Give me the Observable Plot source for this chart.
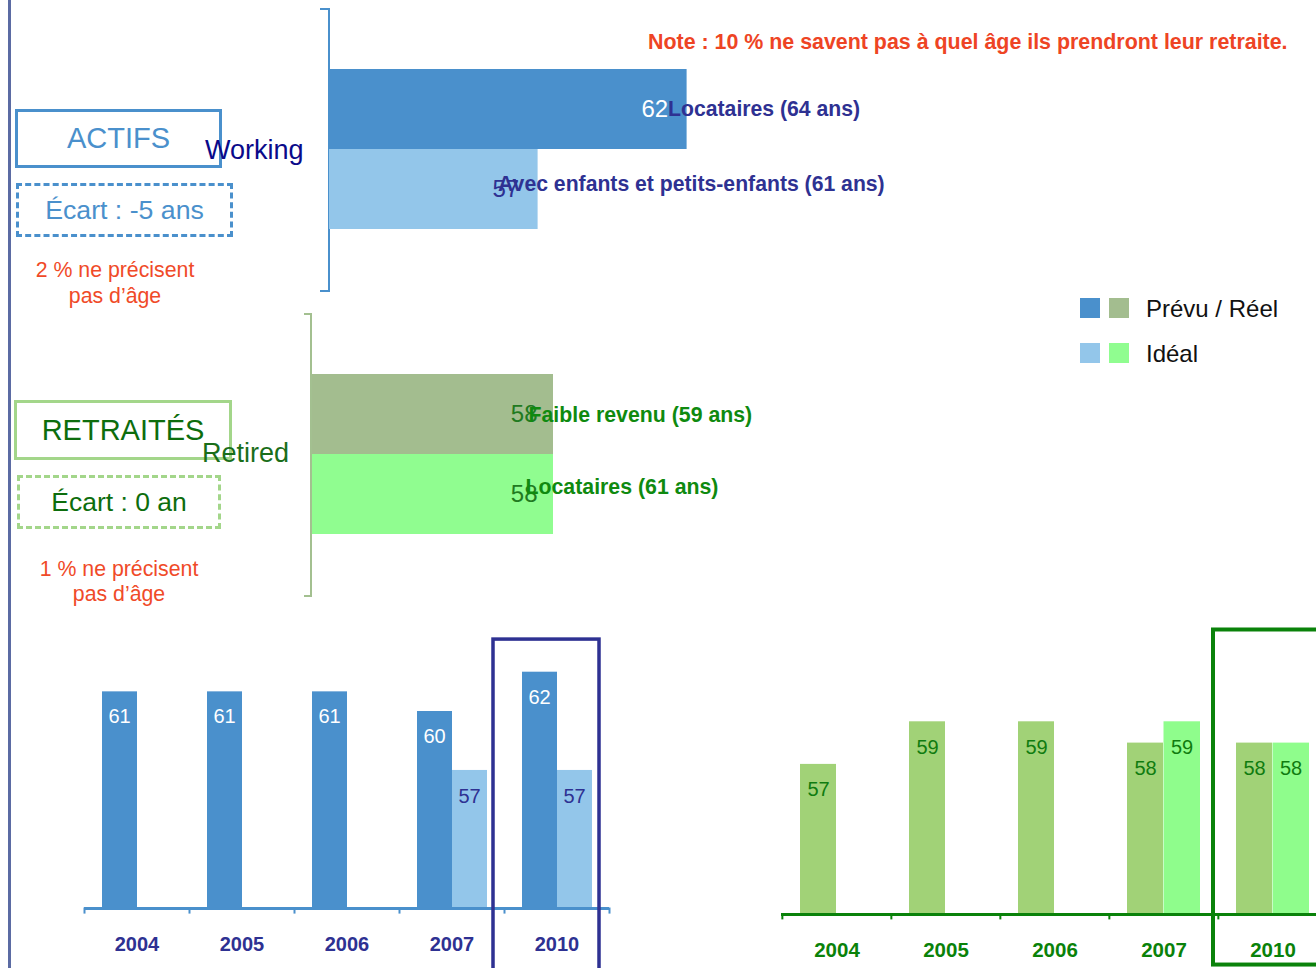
<!DOCTYPE html>
<html><head><meta charset="utf-8">
<script src="https://cdn.jsdelivr.net/npm/d3@7"></script>
<script src="https://cdn.jsdelivr.net/npm/@observablehq/plot@0.6"></script>
<style>
body{margin:0;background:#fff;font-family:"Liberation Sans",Arial,sans-serif;}
#page{position:relative;width:1316px;height:968px;overflow:hidden;background:#fff;}
.t{position:absolute;white-space:nowrap;line-height:1;transform:translateY(-50%);}
.tc{position:absolute;white-space:nowrap;line-height:1;transform:translate(-50%,-50%);text-align:center;}
.box{position:absolute;box-sizing:border-box;display:flex;align-items:center;justify-content:center;white-space:nowrap;line-height:1;}
.sw{position:absolute;width:20px;height:20px;}
</style></head><body><div id="page"></div>
<script>
// ---------- data ----------
const series = ["Prévu / Réel", "Idéal"];
const years = ["2004", "2005", "2006", "2007", "2010"];
const actifsPrevu = [61, 61, 61, 60, 62];
const actifsIdeal = [null, null, null, 57, 57];
const retraitesReel = [57, 59, 59, 58, 58];
const retraitesIdeal = [null, null, null, 59, 58];
const working2010 = [62, 57];
const workingNotes = ["Locataires (64 ans)", "Avec enfants et petits-enfants (61 ans)"];
const retired2010 = [58, 58];
const retiredNotes = ["Faible revenu (59 ans)", "Locataires (61 ans)"];
const groupLabels = ["Working", "Retired"];
const boxTitles = ["ACTIFS", "RETRAITÉS"];
const gapLabels = ["Écart : -5 ans", "Écart : 0 an"];
const missingNotes = [["2 % ne précisent", "pas d’âge"], ["1 % ne précisent", "pas d’âge"]];
const noteText = "Note : 10 % ne savent pas à quel âge ils prendront leur retraite.";
const highlightYear = "2010";
const blueColors = ["#4a90cc", "#93c6ea"];
const greenHColors = ["#a3bd8f", "#90fd90"];
const greenVColors = ["#a1d277", "#8ffd8c"];

// ---------- tables ----------
const workRows = series.map((s, i) => ({series: s, value: working2010[i], note: workingNotes[i]}));
const retRows = series.map((s, i) => ({series: s, value: retired2010[i], note: retiredNotes[i]}));
const toRows = (a, b) => years.flatMap((y, i) => [
  {year: y, series: series[0], value: a[i]},
  {year: y, series: series[1], value: b[i]}
]).filter(d => d.value != null);
const actRows = toRows(actifsPrevu, actifsIdeal);
const retYearRows = toRows(retraitesReel, retraitesIdeal);
const isS = k => d => d.series === series[k];

const font = '"Liberation Sans", Arial, sans-serif';
const page = document.getElementById("page");
function place(node, left, top) {
  node.style.position = "absolute";
  node.style.left = left + "px";
  node.style.top = top + "px";
  page.appendChild(node);
  return node;
}
function el(cls, html, css) {
  const d = document.createElement("div");
  d.className = cls;
  d.innerHTML = html;
  Object.assign(d.style, css);
  page.appendChild(d);
  return d;
}

// ---------- decorations (HTML) ----------
el("", "", {position:"absolute", left:"8px", top:"0px", width:"3px", height:"968px", background:"#5b6ba3"});
// brackets
el("", "", {position:"absolute", left:"320px", top:"8px", width:"8px", height:"280px", border:"2px solid #4a90cc", borderLeft:"none"});
el("", "", {position:"absolute", left:"304px", top:"313px", width:"6px", height:"280px", border:"2px solid #a3c090", borderLeft:"none"});

// boxes
el("box", boxTitles[0], {left:"15px", top:"109px", width:"207px", height:"59px", border:"3px solid #4a90cc", color:"#4a90cc", fontSize:"29px"});
el("box", gapLabels[0], {left:"16px", top:"183px", width:"217px", height:"54px", border:"3px dashed #4a90cc", color:"#4a90cc", fontSize:"26.7px"});
el("tc", missingNotes[0][0], {left:"115px", top:"271px", color:"#f04a28", fontSize:"21.3px"});
el("tc", missingNotes[0][1], {left:"115px", top:"297px", color:"#f04a28", fontSize:"21.3px"});
el("box", boxTitles[1], {left:"14px", top:"400px", width:"218px", height:"60px", border:"3px solid #a3d68a", color:"#0d6d0d", fontSize:"29px"});
el("box", gapLabels[1], {left:"17px", top:"475px", width:"204px", height:"54px", border:"3px dashed #a3d68a", color:"#0d6d0d", fontSize:"26.5px"});
el("tc", missingNotes[1][0], {left:"119px", top:"570px", color:"#f04a28", fontSize:"21.3px"});
el("tc", missingNotes[1][1], {left:"119px", top:"595px", color:"#f04a28", fontSize:"21.3px"});

el("t", groupLabels[0], {left:"205px", top:"150px", color:"#0a0a8a", fontSize:"27px"});
el("t", groupLabels[1], {left:"202px", top:"453px", color:"#1a6e1a", fontSize:"27px"});

el("t", noteText, {left:"648px", top:"43px", color:"#ee4424", fontSize:"21.4px", fontWeight:"bold"});

// legend
el("sw", "", {left:"1080px", top:"298px", background:blueColors[0]});
el("sw", "", {left:"1109px", top:"298px", background:greenHColors[0]});
el("sw", "", {left:"1080px", top:"343px", background:blueColors[1]});
el("sw", "", {left:"1109px", top:"343px", background:greenHColors[1]});
el("t", series[0], {left:"1146px", top:"309px", color:"#111", fontSize:"24px"});
el("t", series[1], {left:"1146px", top:"354px", color:"#111", fontSize:"24px"});

// ---------- horizontal bars: working ----------
const workPlot = Plot.plot({
  width: 700, height: 300, margin: 0,
  style: {background: "transparent", fontFamily: font, overflow: "visible"},
  x: {domain: [50, 64], range: [29, 446.2], axis: null},
  y: {domain: series, range: [69, 229], padding: 0, axis: null},
  color: {domain: series, range: blueColors},
  marks: [
    Plot.barX(workRows, {y: "series", x1: 50, x2: "value", fill: "series"}),
    Plot.text(workRows.filter(isS(0)), {y: "series", x: "value", text: d => String(d.value), textAnchor: "end", dx: -19, fill: "white", fontSize: 24}),
    Plot.text(workRows.filter(isS(1)), {y: "series", x: "value", text: d => String(d.value), textAnchor: "end", dx: -19, fill: "#2e3192", fontSize: 24}),
    Plot.text(workRows.filter(isS(0)), {y: "series", x: "value", text: "note", textAnchor: "start", dx: -19, fill: "#2e3192", fontSize: 21.2, fontWeight: "bold"}),
    Plot.text(workRows.filter(isS(1)), {y: "series", x: "value", text: "note", textAnchor: "start", dx: -40, dy: -5, fill: "#2e3192", fontSize: 21.2, fontWeight: "bold"})
  ]
});
place(workPlot, 300, 0);

// ---------- horizontal bars: retired ----------
const retPlot = Plot.plot({
  width: 700, height: 320, margin: 0,
  style: {background: "transparent", fontFamily: font, overflow: "visible"},
  x: {domain: [50, 64], range: [12, 433.75], axis: null},
  y: {domain: series, range: [74, 234], padding: 0, axis: null},
  color: {domain: series, range: greenHColors},
  marks: [
    Plot.barX(retRows, {y: "series", x1: 50, x2: "value", fill: "series"}),
    Plot.text(retRows, {y: "series", x: "value", text: d => String(d.value), textAnchor: "end", dx: -16, fill: "#217a21", fontSize: 24}),
    Plot.text(retRows.filter(isS(0)), {y: "series", x: "value", text: "note", textAnchor: "start", dx: -25, dy: 1, fill: "#0f8a0f", fontSize: 21.3, fontWeight: "bold"}),
    Plot.text(retRows.filter(isS(1)), {y: "series", x: "value", text: "note", textAnchor: "start", dx: -28, dy: -7, fill: "#0f8a0f", fontSize: 21.3, fontWeight: "bold"})
  ]
});
place(retPlot, 300, 300);

// ---------- vertical bars: actifs ----------
const actPlot = Plot.plot({
  width: 660, height: 348, marginLeft: 84, marginRight: 51, marginTop: 0, marginBottom: 60.5,
  style: {background: "transparent", fontFamily: font, overflow: "visible", fontSize: "20px", fontWeight: "bold", color: "#2e3192"},
  x: {domain: years, range: [84, 609], padding: 0, tickSize: 0, tickPadding: 28.5, label: null},
  y: {domain: [50, 63], range: [287.5, 32.05], axis: null},
  color: {domain: series, range: blueColors},
  marks: [
    Plot.barY(actRows.filter(isS(0)), {x: "year", y1: 50, y2: "value", fill: "series", insetLeft: 18, insetRight: 52}),
    Plot.barY(actRows.filter(isS(1)), {x: "year", y1: 50, y2: "value", fill: "series", insetLeft: 53, insetRight: 17}),
    Plot.ruleY([50], {stroke: "#4a90cc", strokeWidth: 2.8, dy: 0.5}),
    Plot.ruleX(years, {x: d => d, y1: 50, y2: 49.69, dx: -52.5, stroke: "#4a90cc", strokeWidth: 2}),
    Plot.ruleX(years.slice(-1), {x: d => d, y1: 50, y2: 49.69, dx: 52.5, stroke: "#4a90cc", strokeWidth: 2}),
    Plot.text(actRows.filter(isS(0)), {x: "year", y: "value", text: d => String(d.value), dx: -17.5, dy: 25, fill: "white", fontSize: 20, fontWeight: "normal"}),
    Plot.text(actRows.filter(isS(1)), {x: "year", y: "value", text: d => String(d.value), dx: 17.5, dy: 26, fill: "#2e3192", fontSize: 20, fontWeight: "normal"}),
    Plot.barY([highlightYear], {x: d => d, y1: 45.5, y2: 63.66, fill: "none", stroke: "#2e3192", strokeWidth: 3.5, insetLeft: -11, insetRight: 10})
  ]
});
place(actPlot, 0, 620);

// ---------- vertical bars: retraités ----------
const retYPlot = Plot.plot({
  width: 640, height: 348, marginLeft: 81, marginRight: 12.5, marginTop: 0, marginBottom: 55,
  style: {background: "transparent", fontFamily: font, overflow: "visible", fontSize: "20.5px", fontWeight: "bold", color: "#0a820a"},
  x: {domain: years, range: [81, 627.5], padding: 0, tickSize: 0, tickPadding: 29, label: null},
  y: {domain: [50, 63.5], range: [293, 5.45], axis: null},
  color: {domain: series, range: greenVColors},
  marks: [
    Plot.barY(retYearRows.filter(isS(0)), {x: "year", y1: 50, y2: "value", fill: "series", insetLeft: 18, insetRight: 55}),
    Plot.barY(retYearRows.filter(isS(1)), {x: "year", y1: 50, y2: "value", fill: "series", insetLeft: 54.5, insetRight: 18}),
    Plot.ruleY([50], {stroke: "#0a820a", strokeWidth: 3, dy: 1}),
    Plot.ruleX(years, {x: d => d, y1: 50, y2: 49.7, dx: -54.65, stroke: "#0a820a", strokeWidth: 2}),
    Plot.text(retYearRows.filter(isS(0)), {x: "year", y: "value", text: d => String(d.value), dx: -18.5, dy: 25.5, fill: "#107c10", fontSize: 20, fontWeight: "normal"}),
    Plot.text(retYearRows.filter(isS(1)), {x: "year", y: "value", text: d => String(d.value), dx: 18, dy: 25.5, fill: "#107c10", fontSize: 20, fontWeight: "normal"}),
    Plot.barY([highlightYear], {x: d => d, y1: 47.58, y2: 63.31, fill: "none", stroke: "#0a820a", strokeWidth: 4, insetLeft: -5, insetRight: 0})
  ]
});
place(retYPlot, 700, 620);
</script></body></html>
